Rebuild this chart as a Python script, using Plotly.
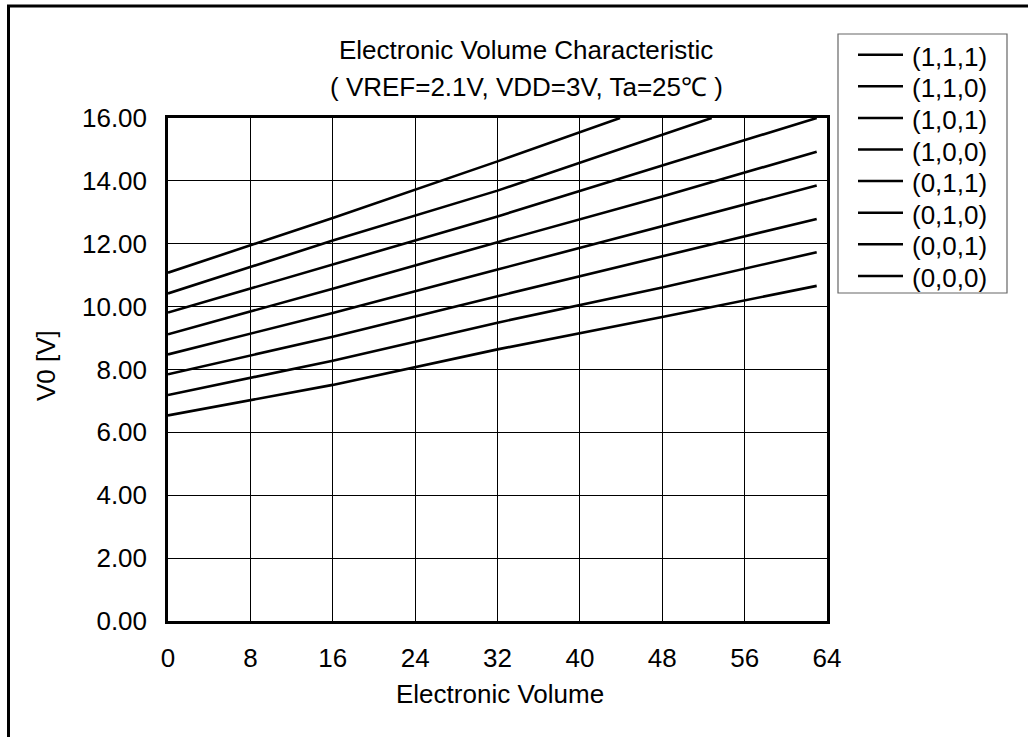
import plotly.graph_objects as go

# ---- data ----
series_names = ["(1,1,1)", "(1,1,0)", "(1,0,1)", "(1,0,0)",
                "(0,1,1)", "(0,1,0)", "(0,0,1)", "(0,0,0)"]

x_111 = [0, 16, 32, 43.9]
y_111 = [11.08, 12.82, 14.62, 16.0]
x_110 = [0, 16, 32, 48, 52.8]
y_110 = [10.42, 12.10, 13.69, 15.47, 16.0]
x_common = [0, 16, 32, 48, 63]
y_101 = [9.81, 11.33, 12.87, 14.49, 16.0]
y_100 = [9.12, 10.57, 12.05, 13.50, 14.93]
y_011 = [8.48, 9.80, 11.18, 12.55, 13.85]
y_010 = [7.85, 9.04, 10.33, 11.60, 12.79]
y_001 = [7.19, 8.28, 9.49, 10.61, 11.73]
y_000 = [6.54, 7.51, 8.64, 9.67, 10.66]

x_ticks = [0, 8, 16, 24, 32, 40, 48, 56, 64]
y_ticks = [0, 2, 4, 6, 8, 10, 12, 14, 16]

title_line1 = "Electronic Volume Characteristic"
title_line2 = "( VREF=2.1V, VDD=3V, Ta=25℃ )"
x_title = "Electronic Volume"
y_title = "V0 [V]"

xs = [x_111, x_110] + [x_common] * 6
ys = [y_111, y_110, y_101, y_100, y_011, y_010, y_001, y_000]

FONT = "Arial, Liberation Sans, sans-serif"
FS = 26

fig = go.Figure()
for name, xv, yv in zip(series_names, xs, ys):
    fig.add_trace(go.Scatter(x=xv, y=yv, mode="lines", name=name, showlegend=False,
                             line=dict(color="black", width=2.6)))

# plot area in pixels: x 168..827, y 118..621
L, R, T, B = 168, 827, 118, 621
W, H = 1028, 737
pw, ph = R - L, B - T

def px(xp):
    return (xp - L) / pw

def py(yp):
    return (B - yp) / ph

fig.update_layout(
    width=W, height=H,
    margin=dict(l=L, r=W - R, t=T, b=H - B, pad=0),
    paper_bgcolor="white", plot_bgcolor="white",
    font=dict(family=FONT, size=FS, color="black"),
    showlegend=False,
    xaxis=dict(range=[0, 64], tickvals=x_ticks, ticktext=[str(v) for v in x_ticks],
               showgrid=True, gridcolor="black", gridwidth=1,
               showline=True, linecolor="black", linewidth=2.5, mirror=True,
               zeroline=False, ticks="", ticklabelstandoff=12,
               tickfont=dict(size=FS, family=FONT)),
    yaxis=dict(range=[0, 16], tickvals=y_ticks, tickformat=".2f",
               showgrid=True, gridcolor="black", gridwidth=1,
               showline=True, linecolor="black", linewidth=2.5, mirror=True,
               zeroline=False, ticks="", ticklabelstandoff=13,
               tickfont=dict(size=FS, family=FONT)),
)

annos = [
    dict(text=title_line1, x=px(526), y=py(50)),
    dict(text=title_line2, x=px(526), y=py(87)),
    dict(text=x_title, x=px(500), y=py(694)),
    dict(text=y_title, x=px(46), y=py(366), textangle=-90),
]
for a in annos:
    fig.add_annotation(xref="paper", yref="paper", showarrow=False,
                       xanchor="center", yanchor="middle",
                       font=dict(size=FS, family=FONT, color="black"), **a)

# legend drawn as a boxed key (positions in pixels)
fig.add_shape(type="rect", xref="paper", yref="paper",
              x0=px(838), x1=px(1007), y0=py(293), y1=py(34),
              line=dict(color="#666666", width=1.2), fillcolor="white", layer="above")
for i, name in enumerate(series_names):
    yc = 56.7 + 31.6 * i
    fig.add_shape(type="line", xref="paper", yref="paper",
                  x0=px(858), x1=px(903), y0=py(yc - 2), y1=py(yc - 2),
                  line=dict(color="black", width=2.5), layer="above")
    fig.add_annotation(xref="paper", yref="paper", showarrow=False,
                       x=px(910), y=py(yc), xanchor="left", yanchor="middle",
                       text=name, font=dict(size=FS, family=FONT, color="black"))

# outer frame (cropped border of the original figure)
fig.add_shape(type="path", xref="paper", yref="paper",
              path=f"M {px(8.5)} {py(745)} L {px(8.5)} {py(6)} L {px(1040)} {py(6)}",
              line=dict(color="black", width=3))

fig.write_html("out.html", config={"displayModeBar": False},
               post_script="document.body.style.margin='0px';document.body.style.overflow='hidden';")
